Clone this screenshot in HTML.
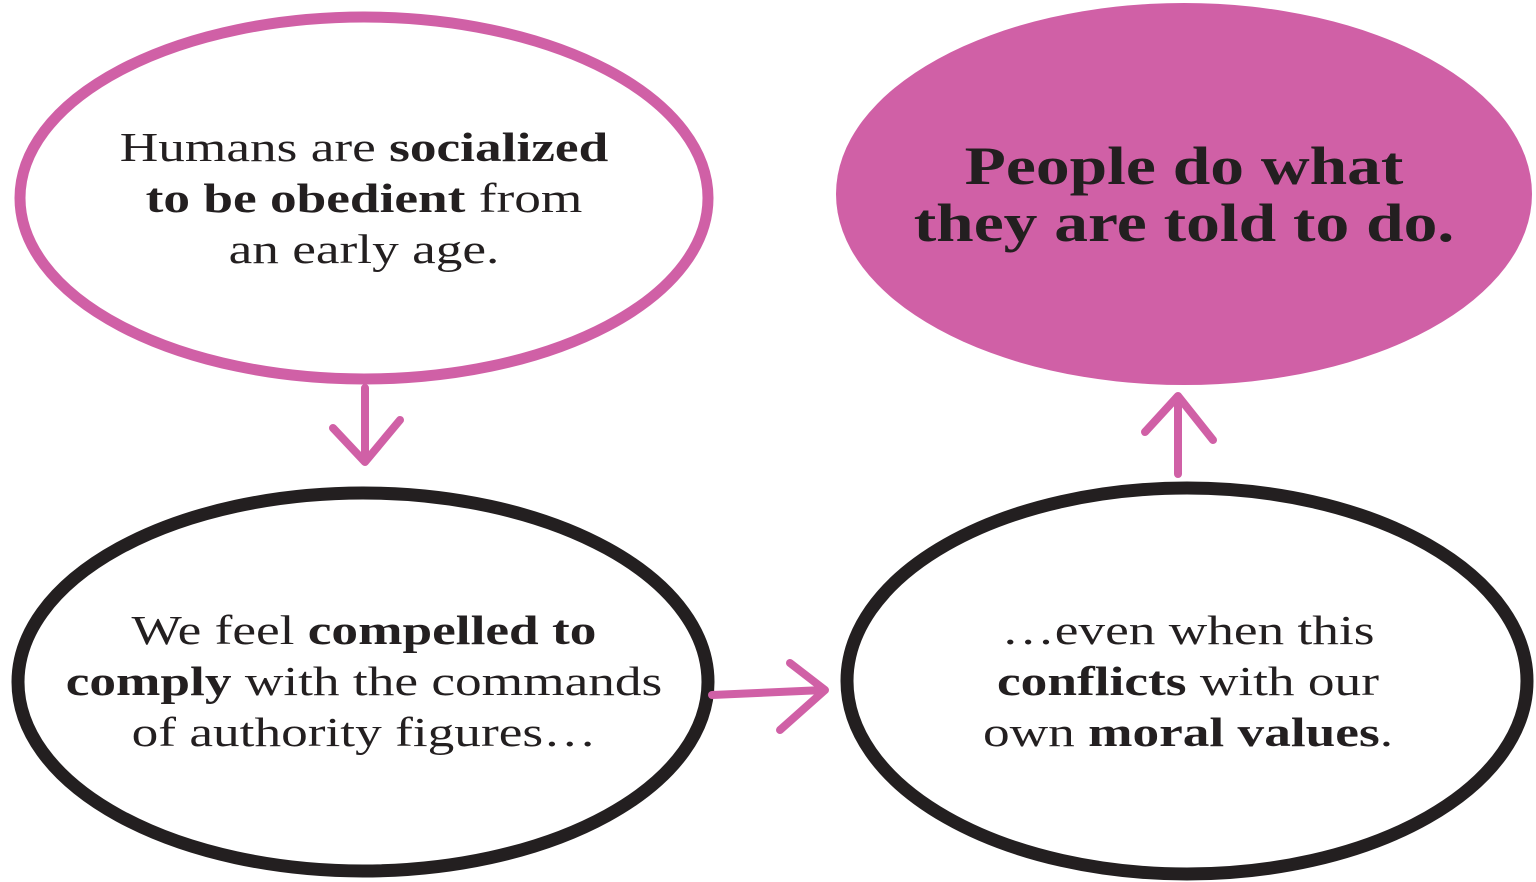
<!DOCTYPE html>
<html><head><meta charset="utf-8"><style>
html,body{margin:0;padding:0;background:#fff;}
body{width:1536px;height:882px;position:relative;overflow:hidden;font-family:"Liberation Serif",serif;color:#231f20;}
.t{position:absolute;text-align:center;font-size:41px;line-height:51px;white-space:nowrap;transform:scaleX(1.3);transform-origin:center;}
.t b{font-weight:bold;}
</style></head><body>
<svg width="1536" height="882" style="position:absolute;left:0;top:0">
<ellipse cx="364" cy="198" rx="344" ry="181" fill="none" stroke="#d060a6" stroke-width="11"/>
<ellipse cx="1184" cy="194" rx="348" ry="191" fill="#d060a6"/>
<ellipse cx="363" cy="682" rx="345" ry="189" fill="none" stroke="#231f20" stroke-width="13"/>
<ellipse cx="1187" cy="681" rx="340" ry="193" fill="none" stroke="#231f20" stroke-width="13"/>
<g fill="none" stroke="#d060a6" stroke-width="8" stroke-linecap="round" stroke-linejoin="round">
<path d="M365 388 L365 460 M333 428 L365 462 L400 420"/>
<path d="M712 695 L824 690 M790 663 L825 690 L780 730"/>
<path d="M1178 474 L1178 397 M1145 432 L1178 396 L1213 440"/>
</g>
</svg>
<div class="t" style="left:14px;width:700px;top:122px;">Humans are <b>socialized</b><br><b>to be obedient</b> from<br>an early age.</div>
<div class="t" style="left:836px;width:696px;top:138px;font-size:54px;line-height:57px;font-weight:bold;transform:scaleX(1.25);">People do what<br>they are told to do.</div>
<div class="t" style="left:14px;width:700px;top:605px;">We feel <b>compelled to</b><br><b>comply</b> with the commands<br>of authority figures…</div>
<div class="t" style="left:843px;width:690px;top:605px;">…even when this<br><b>conflicts</b> with our<br>own <b>moral values</b>.</div>
</body></html>
